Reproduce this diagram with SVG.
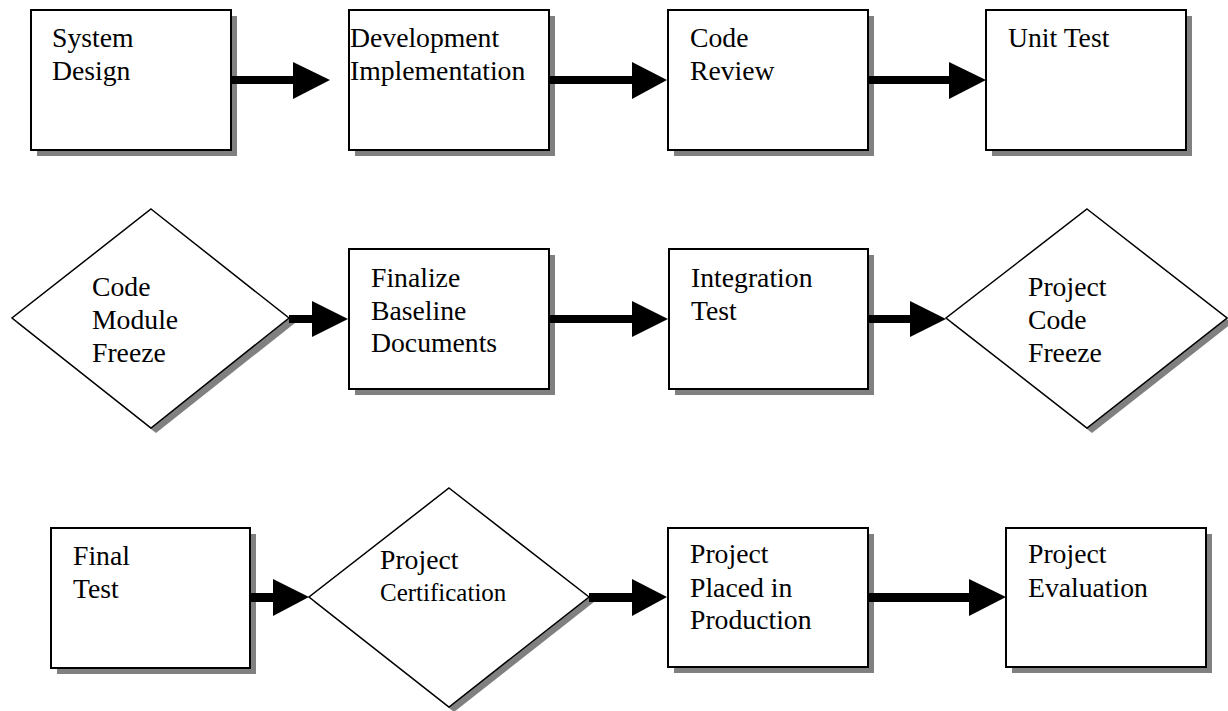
<svg xmlns="http://www.w3.org/2000/svg" width="1228" height="711" viewBox="0 0 1228 711">
<style>
.sh{fill:#808080;stroke:none}
.bx{fill:#fff;stroke:#000;stroke-width:2}
.dm{fill:#fff;stroke:#000;stroke-width:1.5}
.t{font-family:'Liberation Serif','Times New Roman',Tinos,'DejaVu Serif',serif;font-size:27.7px;fill:#000}
.sm{font-size:25px}
.ar{fill:#000;stroke:none}
</style>
<rect width="1228" height="711" fill="#fff"/>
<g id="system-design">
<rect class="sh" x="37" y="16" width="200" height="140"/>
<rect class="bx" x="31" y="10" width="200" height="140"/>
<text class="t" font-family="Liberation Serif, DejaVu Serif, serif"><tspan x="52" y="47">System</tspan><tspan x="52" y="80">Design</tspan></text>
</g>
<g id="development-implementation">
<rect class="sh" x="355" y="16" width="200" height="140"/>
<rect class="bx" x="349" y="10" width="200" height="140"/>
<text class="t"><tspan x="350" y="47">Development</tspan><tspan x="350" y="80">Implementation</tspan></text>
</g>
<g id="code-review">
<rect class="sh" x="674" y="16" width="200" height="140"/>
<rect class="bx" x="668" y="10" width="200" height="140"/>
<text class="t"><tspan x="690" y="47">Code</tspan><tspan x="690" y="80">Review</tspan></text>
</g>
<g id="unit-test">
<rect class="sh" x="992" y="16" width="200" height="140"/>
<rect class="bx" x="986" y="10" width="200" height="140"/>
<text class="t"><tspan x="1008" y="47">Unit Test</tspan></text>
</g>
<g id="code-module-freeze">
<polygon class="sh" points="156,214 295,323 156,433 17,323"/>
<polygon class="dm" points="151,209 289,318 151,428 12,318"/>
<text class="t"><tspan x="92" y="296">Code</tspan><tspan x="92" y="329">Module</tspan><tspan x="92" y="362">Freeze</tspan></text>
</g>
<g id="finalize-baseline-documents">
<rect class="sh" x="355" y="255" width="200" height="140"/>
<rect class="bx" x="349" y="249" width="200" height="140"/>
<text class="t"><tspan x="371" y="287">Finalize</tspan><tspan x="371" y="320">Baseline</tspan><tspan x="371" y="352">Documents</tspan></text>
</g>
<g id="integration-test">
<rect class="sh" x="675" y="255" width="199" height="140"/>
<rect class="bx" x="669" y="249" width="199" height="140"/>
<text class="t"><tspan x="691" y="287">Integration</tspan><tspan x="691" y="320">Test</tspan></text>
</g>
<g id="project-code-freeze">
<polygon class="sh" points="1092,214 1232,323 1092,433 951,323"/>
<polygon class="dm" points="1087,209 1227,318 1087,428 946,318"/>
<text class="t"><tspan x="1028" y="296">Project</tspan><tspan x="1028" y="329">Code</tspan><tspan x="1028" y="362">Freeze</tspan></text>
</g>
<g id="final-test">
<rect class="sh" x="57" y="534" width="199" height="140"/>
<rect class="bx" x="51" y="528" width="199" height="140"/>
<text class="t"><tspan x="73" y="565">Final</tspan><tspan x="73" y="598">Test</tspan></text>
</g>
<g id="project-certification">
<polygon class="sh" points="454,493 594,602 454,712 314,602"/>
<polygon class="dm" points="449,488 589,597 449,707 309,597"/>
<text class="t"><tspan x="380" y="569">Project</tspan><tspan class="sm" x="380" y="601">Certification</tspan></text>
</g>
<g id="project-placed-in-production">
<rect class="sh" x="674" y="534" width="200" height="139"/>
<rect class="bx" x="668" y="528" width="200" height="139"/>
<text class="t"><tspan x="690" y="563">Project</tspan><tspan x="690" y="597">Placed in</tspan><tspan x="690" y="629">Production</tspan></text>
</g>
<g id="project-evaluation">
<rect class="sh" x="1012" y="534" width="200" height="139"/>
<rect class="bx" x="1006" y="528" width="200" height="139"/>
<text class="t"><tspan x="1028" y="563">Project</tspan><tspan x="1028" y="597">Evaluation</tspan></text>
</g>
<g id="connectors">
<polygon class="ar" points="231,76 293,76 293,62 330,80 293,99 293,84 231,84"/>
<polygon class="ar" points="549,76 632,76 632,62 667,80 632,99 632,84 549,84"/>
<polygon class="ar" points="868,76 949,76 949,62 986,80 949,99 949,84 868,84"/>
<polygon class="ar" points="289,315 312,315 312,301 348,319 312,337 312,323 289,323"/>
<polygon class="ar" points="549,315 632,315 632,301 668,319 632,337 632,323 549,323"/>
<polygon class="ar" points="868,315 910,315 910,301 946,319 910,337 910,323 868,323"/>
<polygon class="ar" points="250,593 273,593 273,579 309,597 273,616 273,602 250,602"/>
<polygon class="ar" points="589,593 632,593 632,579 667,597 632,616 632,602 589,602"/>
<polygon class="ar" points="868,593 969,593 969,579 1006,597 969,616 969,602 868,602"/>
</g>
</svg>
